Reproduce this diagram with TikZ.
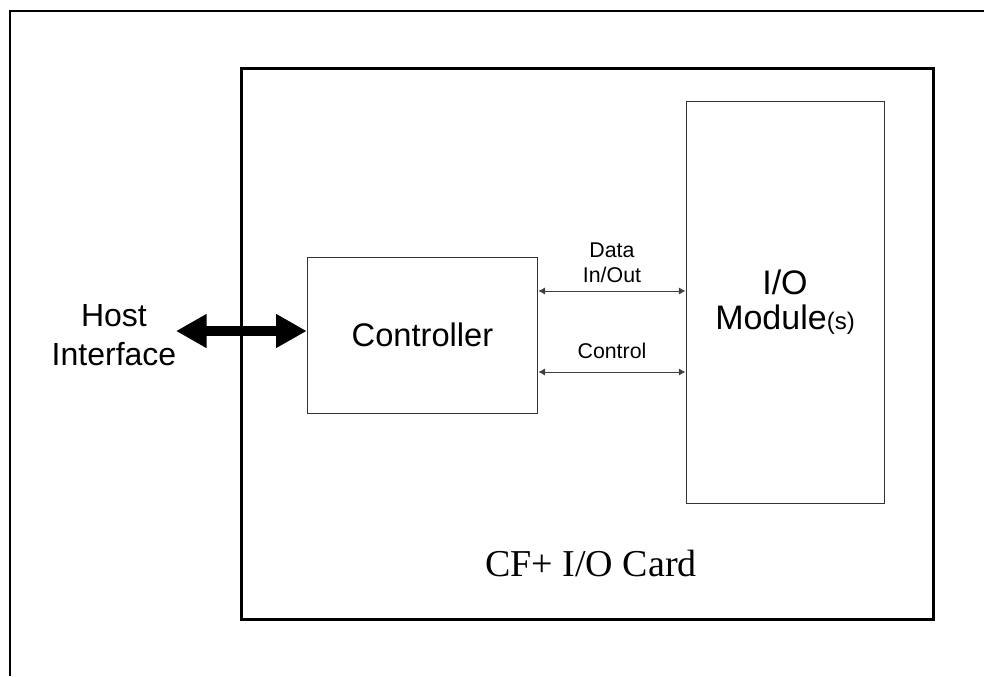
\documentclass[tikz,border=0pt]{standalone}
\usepackage{fontspec}
\setmainfont{Liberation Sans}
\newfontfamily\cardfont{Liberation Serif}
\usetikzlibrary{arrows.meta}

\begin{document}
\begin{tikzpicture}[x=0.75pt, y=-0.75pt,
  blk/.style={draw=black!80, line width=0.75pt, font=\fontsize{24.5}{29}\selectfont},
  sig/.style={draw=black!75, line width=0.75pt, {Latex[length=5pt,width=5.5pt]}-{Latex[length=5pt,width=5.5pt]}},
  siglabel/.style={font=\fontsize{16}{19}\selectfont, align=center, inner sep=0pt},
  hostbus/.style={line width=7.5pt, {Triangle[length=23pt,width=24pt]}-{Triangle[length=23pt,width=24pt]}}]
\useasboundingbox (0,0) rectangle (984,676);
\draw[line width=1.5pt] (10,676) -- (10,11) -- (984,11);
\draw[line width=2.25pt] (241,68) rectangle (933,619);
\node[font=\cardfont\fontsize{28.5}{34}\selectfont] (cardname) at (591,563) {CF+ I/O Card};
\node[blk, minimum width=173pt, minimum height=117pt] (ctrl) at (422.5,335) {Controller};
\node[blk, minimum width=148.5pt, minimum height=301.5pt, align=center, font=\fontsize{25.5}{26}\selectfont] (io) at (785,302) {I/O\\Module{\fontsize{18}{20}\selectfont(s)}};
\node[font=\fontsize{24}{29}\selectfont, align=center, inner sep=0pt] (host) at (114,335) {Host\\Interface};
\coordinate (hostend) at (176,331);
\draw[hostbus] (hostend) -- (hostend -| ctrl.west);
\coordinate (dataline) at (612,291);
\coordinate (ctrlline) at (612,372);
\draw[sig] (dataline -| ctrl.east) -- (dataline -| io.west);
\draw[sig] (ctrlline -| ctrl.east) -- (ctrlline -| io.west);
\node[siglabel, anchor=south] (datalabel) at (612,283) {Data\\In/Out};
\node[siglabel, anchor=south] (ctrllabel) at (612,359) {Control};
\end{tikzpicture}
\end{document}
